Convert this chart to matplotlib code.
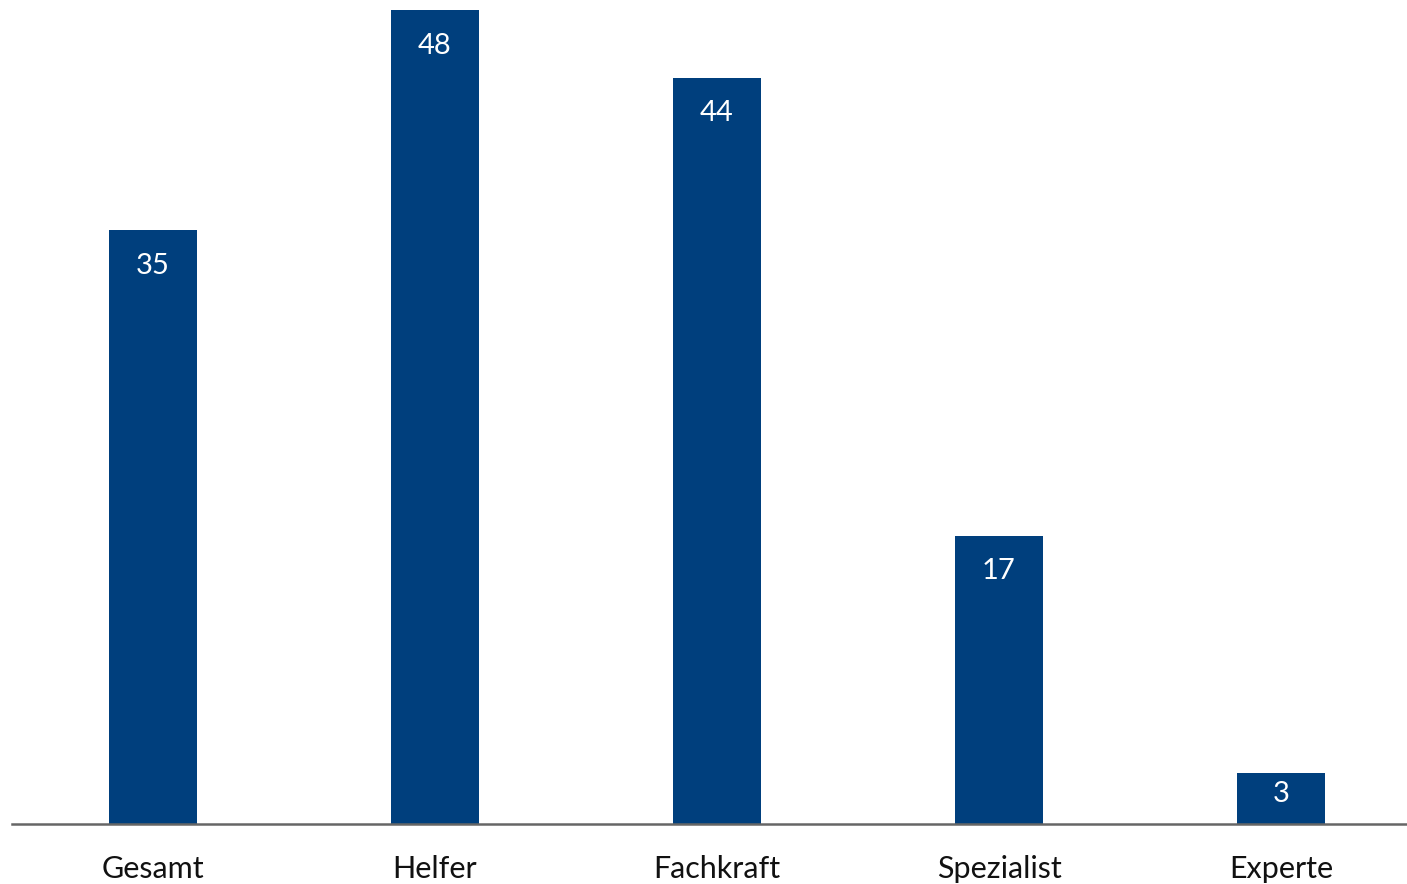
import matplotlib
matplotlib.use('Agg')
import matplotlib.pyplot as plt
import numpy as np

# Daten
kategorien = ['Gesamt', 'Helfer', 'Fachkraft', 'Spezialist', 'Experte']
werte = [35, 48, 44, 17, 3]

plt.rcParams['font.family'] = ['Lato', 'DejaVu Sans']

fig = plt.figure(figsize=(14.07, 8.84), dpi=100)
ax = fig.add_axes([12 / 1407, 60 / 884, 1395 / 1407, 814 / 884])

x = np.arange(len(kategorien))
ax.bar(x, werte, width=0.315, color='#003f7d')

# Werte in die Balken schreiben (bei kurzen Balken naeher an die Kante)
for xi, w in zip(x, werte):
    abstand = 2.1 if w > 5 else 1.25
    ax.text(xi, w - abstand, str(w), ha='center', va='center',
            color='white', fontsize=21)

ax.set_xlim(-0.5, 4.447)
ax.set_ylim(0, 48)
ax.set_xticks(x)
ax.set_xticklabels(kategorien, fontsize=22, color='#111111')
ax.tick_params(axis='x', length=0, pad=22)
ax.set_yticks([])

for s in ['top', 'right', 'left']:
    ax.spines[s].set_visible(False)
ax.spines['bottom'].set_color('#666666')
ax.spines['bottom'].set_linewidth(1.8)

fig.savefig('out.png', dpi=100, facecolor='white')
